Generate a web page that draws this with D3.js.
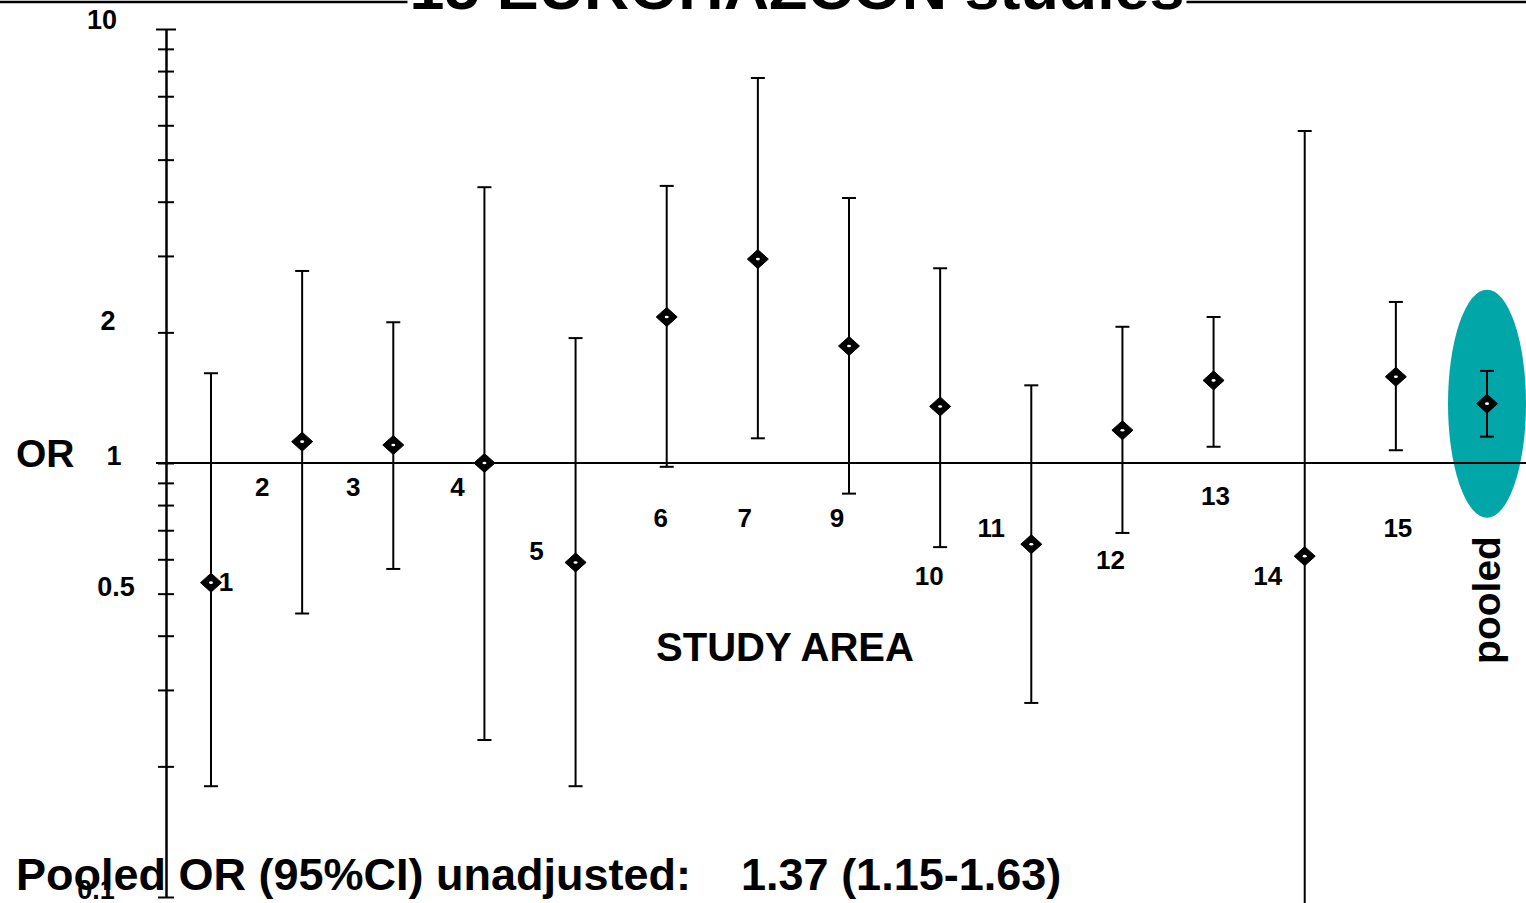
<!DOCTYPE html>
<html>
<head>
<meta charset="utf-8">
<script src="https://cdn.jsdelivr.net/npm/d3@7"></script>
<style>
  html, body { margin: 0; padding: 0; background: #fff; }
  svg { display: block; font-family: "Liberation Sans", Arial, sans-serif; font-weight: bold; }
</style>
</head>
<body>
<div id="chart"></div>
<script>
// study labels (study 8 is missing from the figure)
var studies = ["1", "2", "3", "4", "5", "6", "7", "9", "10", "11", "12", "13", "14", "15", "pooled"];

// odds ratio and 95% CI
var orValues = [0.53, 1.12, 1.10, 1.00, 0.59, 2.17, 2.95, 1.86, 1.35, 0.65, 1.19, 1.55, 0.61, 1.58, 1.37];
var ciLow    = [0.18, 0.45, 0.57, 0.23, 0.18, 0.98, 1.14, 0.85, 0.64, 0.28, 0.69, 1.09, 0.08, 1.07, 1.15];
var ciHigh   = [1.61, 2.77, 2.11, 4.32, 1.94, 4.35, 7.71, 4.08, 2.81, 1.51, 2.06, 2.17, 5.82, 2.35, 1.63];

// y axis ticks
var tickValues = [0.1, 0.2, 0.3, 0.4, 0.5, 0.6, 0.7, 0.8, 0.9, 1, 2, 3, 4, 5, 6, 7, 8, 9, 10];
var tickLabels = [0.1, 0.5, 1, 2, 10];

var width = 1526, height = 903;

var svg = d3.select("#chart")
  .append("svg")
    .attr("width", width)
    .attr("height", height);

// scales
var y = d3.scaleLog()
  .domain([0.1, 10])
  .range([897, 29]);

var x = d3.scalePoint()
  .domain(studies)
  .range([211, 1487]);

// title, mostly cut off at the top
svg.append("line")
  .attr("x1", 0).attr("x2", width)
  .attr("y1", 2).attr("y2", 2)
  .attr("stroke", "#000")
  .attr("stroke-width", 2.5);

var title = svg.append("text")
  .attr("x", 797)
  .attr("y", 9)
  .attr("text-anchor", "middle")
  .attr("font-size", 60)
  .attr("textLength", 775)
  .attr("lengthAdjust", "spacingAndGlyphs")
  .text("15 EUROHAZCON studies");
var tb = title.node().getBBox();
svg.insert("rect", "text")
  .attr("x", tb.x - 2).attr("y", 0)
  .attr("width", tb.width + 4).attr("height", 6)
  .attr("fill", "#fff");

// highlight around the pooled estimate
var pooled = studies.length - 1;
svg.append("ellipse")
  .attr("cx", x(studies[pooled]))
  .attr("cy", y(orValues[pooled]))
  .attr("rx", 39)
  .attr("ry", 114)
  .attr("fill", "#00a6a8");

// Y axis
var yAxis = svg.append("g")
  .attr("transform", "translate(166,0)")
  .call(d3.axisLeft(y).tickValues(tickValues).tickSizeOuter(0).tickFormat(""));
yAxis.select(".domain").attr("stroke", "#000").attr("stroke-width", 2.5);
yAxis.selectAll(".tick line")
  .attr("stroke", "#000")
  .attr("stroke-width", 2)
  .attr("x1", function(d) { return d === 10 ? -10 : -8; })
  .attr("x2", function(d) { return d === 10 ? 10 : 8; });

// tick labels, placed a little irregularly as in the original
var labelX = {0.1: 96, 0.5: 116, 1: 114, 2: 108, 10: 102};
var labelDy = {0.1: 2, 0.5: 2, 1: 2, 2: -2, 10: 0};
svg.selectAll(".ylab")
  .data(tickLabels)
  .enter()
  .append("text")
    .attr("class", "ylab")
    .attr("x", function(d) { return labelX[d]; })
    .attr("y", function(d) { return y(d) + labelDy[d]; })
    .attr("text-anchor", "middle")
    .attr("font-size", 27)
    .text(function(d) { return d; });

svg.append("text")
  .attr("x", 16)
  .attr("y", 467)
  .attr("font-size", 39)
  .text("OR");

// reference line at OR = 1
svg.append("line")
  .attr("x1", 156).attr("x2", width)
  .attr("y1", y(1)).attr("y2", y(1))
  .attr("stroke", "#000")
  .attr("stroke-width", 2);

// error bars
var bars = svg.selectAll(".bar")
  .data(studies)
  .enter()
  .append("g")
    .attr("class", "bar")
    .attr("transform", function(d) { return "translate(" + x(d) + ",0)"; });

bars.append("line")
  .attr("y1", function(d, i) { return y(ciLow[i]); })
  .attr("y2", function(d, i) { return y(ciHigh[i]); })
  .attr("stroke", "#000")
  .attr("stroke-width", 2);

bars.append("line")
  .attr("x1", -7).attr("x2", 7)
  .attr("y1", function(d, i) { return y(ciHigh[i]); })
  .attr("y2", function(d, i) { return y(ciHigh[i]); })
  .attr("stroke", "#000")
  .attr("stroke-width", 2);

bars.append("line")
  .attr("x1", -7).attr("x2", 7)
  .attr("y1", function(d, i) { return y(ciLow[i]); })
  .attr("y2", function(d, i) { return y(ciLow[i]); })
  .attr("stroke", "#000")
  .attr("stroke-width", 2);

// solid diamond marker with a small white eye
var diamond = d3.line()([[0, -9.5], [10.5, 0], [0, 9.5], [-10.5, 0]]) + "Z";
bars.append("path")
  .attr("d", diamond)
  .attr("transform", function(d, i) { return "translate(0," + y(orValues[i]) + ")"; })
  .attr("fill", "#000")
  .attr("stroke", "#000")
  .attr("stroke-width", 1);

bars.append("ellipse")
  .attr("cy", function(d, i) { return y(orValues[i]); })
  .attr("rx", 2)
  .attr("ry", 1.3)
  .attr("fill", "#fff");

// study labels: [dx from point, baseline]
var labelPlace = [[15, 591], [-40, 496], [-40, 496], [-27, 496], [-39, 560], [-6, 527], [-13, 527],
                  [-12, 527], [-11, 585], [-40, 537], [-12, 569], [2, 505], [-37, 585], [2, 537]];

svg.selectAll(".slab")
  .data(studies.slice(0, pooled))
  .enter()
  .append("text")
    .attr("class", "slab")
    .attr("x", function(d, i) { return x(d) + labelPlace[i][0]; })
    .attr("y", function(d, i) { return labelPlace[i][1]; })
    .attr("text-anchor", "middle")
    .attr("font-size", 26)
    .text(function(d) { return d; });

svg.append("text")
  .attr("transform", "translate(" + (x(studies[pooled]) + 13) + ",600) rotate(-90)")
  .attr("text-anchor", "middle")
  .attr("font-size", 39)
  .text("pooled");

svg.append("text")
  .attr("x", 785)
  .attr("y", 661)
  .attr("text-anchor", "middle")
  .attr("font-size", 40)
  .text("STUDY AREA");

svg.append("text")
  .attr("x", 16)
  .attr("y", 890)
  .attr("font-size", 45)
  .attr("xml:space", "preserve")
  .style("white-space", "pre")
  .text("Pooled OR (95%CI) unadjusted:    1.37 (1.15-1.63)");
</script>
</body>
</html>
